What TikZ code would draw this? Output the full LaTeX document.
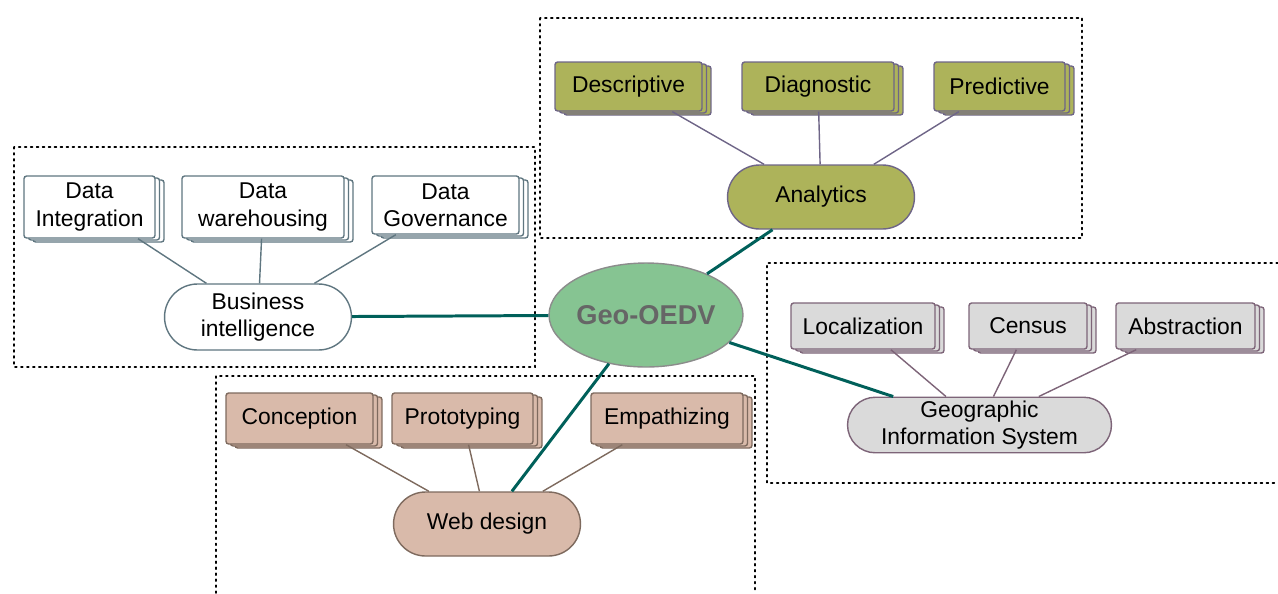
\documentclass[tikz,border=0pt]{standalone}
\usepackage{fontspec}
\setmainfont{Liberation Sans}
\usetikzlibrary{shapes.misc,shapes.geometric,shadows}
\definecolor{anafill}{HTML}{ADB35A}
\definecolor{anadraw}{HTML}{6E6587}
\definecolor{bidraw}{HTML}{5F7680}
\definecolor{gisfill}{HTML}{DADADA}
\definecolor{gisdraw}{HTML}{7D6478}
\definecolor{webfill}{HTML}{D9BAAA}
\definecolor{webdraw}{HTML}{7E6A5E}
\definecolor{geofill}{HTML}{86C492}
\definecolor{geodraw}{HTML}{8C8C8C}
\definecolor{geotext}{HTML}{666666}
\definecolor{linkcol}{HTML}{00605A}
\tikzset{stackbox/.style={draw,rectangle,rounded corners=1.5pt,line width=0.8pt,align=center,inner sep=2pt,
    double copy shadow={shadow xshift=0.09cm,shadow yshift=-0.04cm}}}
\tikzset{pill/.style={draw,rounded rectangle,line width=0.8pt,align=center,inner sep=2pt}}
\tikzset{frame/.style={line width=1pt,dash pattern=on 1pt off 2.4pt,line cap=round}}
\tikzset{link/.style={line width=1.7pt,linkcol}}
\tikzset{sub/.style={line width=0.8pt}}
\tikzset{ana/.style={fill=anafill,draw=anadraw}}
\tikzset{bi/.style={fill=white,draw=bidraw}}
\tikzset{gis/.style={fill=gisfill,draw=gisdraw}}
\tikzset{web/.style={fill=webfill,draw=webdraw}}

\begin{document}
\begin{tikzpicture}[x=0.02cm,y=-0.02cm,font=\fontsize{13}{15.5}\selectfont]
                \useasboundingbox (0,0) rectangle (1278,593);

                \draw[frame] (540,18) rectangle (1082,238);
                \draw[frame] (14,147) rectangle (535,367);
                \draw[frame] (1278,263) -- (767,263) -- (767,483) -- (1278,483);
                \draw[frame] (216,593) -- (216,376) -- (755,376) -- (755,593);

                \node[stackbox,ana,minimum width=2.94cm,minimum height=0.98cm] (desc) at (628.5,86.5) {Descriptive};
                \node[stackbox,ana,minimum width=3.04cm,minimum height=0.98cm] (diag) at (818,86.5) {Diagnostic};
                \node[stackbox,ana,minimum width=2.62cm,minimum height=0.98cm] (pred) at (999.5,86.5) {Predictive};
                \node[pill,ana,minimum width=3.88cm,minimum height=1.28cm] (ana) at (821,197) {Analytics};

                \node[stackbox,bi,minimum width=2.62cm,minimum height=1.24cm] (dint) at (89.5,207) {Data\\Integration};
                \node[stackbox,bi,minimum width=3.24cm,minimum height=1.24cm] (dwh) at (263,207) {Data\\warehousing};
                \node[stackbox,bi,minimum width=2.94cm,minimum height=1.16cm] (dgov) at (445.5,205) {Data\\Governance};
                \node[pill,bi,minimum width=3.88cm,minimum height=1.32cm] (bi) at (258,317) {Business\\intelligence};

                \node[stackbox,gis,minimum width=2.88cm,minimum height=0.92cm] (loc) at (863,326) {Localization};
                \node[stackbox,gis,minimum width=2.36cm,minimum height=0.92cm] (cens) at (1028,326) {Census};
                \node[stackbox,gis,minimum width=2.78cm,minimum height=0.92cm] (abst) at (1185.5,326) {Abstraction};
                \node[pill,gis,minimum width=5.42cm,minimum height=1.04cm] (gis) at (979.5,425) {Geographic\\Information System};

                \node[stackbox,web,minimum width=2.94cm,minimum height=1.02cm] (conc) at (299.5,418.5) {Conception};
                \node[stackbox,web,minimum width=2.82cm,minimum height=1.02cm] (proto) at (462.5,418.5) {Prototyping};
                \node[stackbox,web,minimum width=3.04cm,minimum height=1.02cm] (emp) at (667,418.5) {Empathizing};
                \node[pill,web,minimum width=3.88cm,minimum height=1.28cm] (web) at (487,524) {Web design};

                \node[ellipse,draw=geodraw,fill=geofill,line width=0.8pt,inner xsep=-1.5pt,inner ysep=0pt,
                    minimum width=3.88cm,minimum height=2.08cm,
                    text=geotext,font=\fontsize{15.5}{18}\selectfont\bfseries] (geo) at (646,315) {Geo-OEDV};

                \draw[anadraw,sub] (desc) -- (ana);
                \draw[anadraw,sub] (diag) -- (ana);
                \draw[anadraw,sub] (pred) -- (ana);
                \draw[bidraw,sub] (dint) -- (bi);
                \draw[bidraw,sub] (dwh) -- (bi);
                \draw[bidraw,sub] (dgov) -- (bi);
                \draw[gisdraw,sub] (loc) -- (gis);
                \draw[gisdraw,sub] (cens) -- (gis);
                \draw[gisdraw,sub] (abst) -- (gis);
                \draw[webdraw,sub] (conc) -- (web);
                \draw[webdraw,sub] (proto) -- (web);
                \draw[webdraw,sub] (emp) -- (web);

                \draw[link] (geo) -- (ana);
                \draw[link] (geo) -- (bi);
                \draw[link] (geo) -- (gis);
                \draw[link] (geo) -- (web);
            \end{tikzpicture}
\end{document}
